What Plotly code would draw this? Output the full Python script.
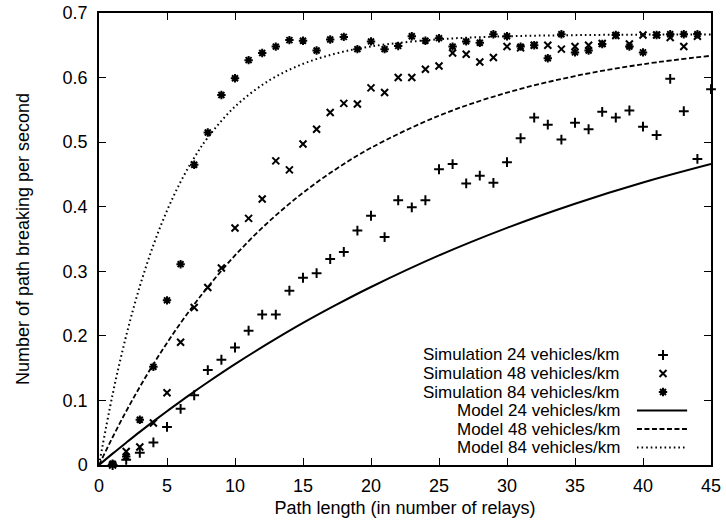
import plotly.graph_objects as go

# ---------------- data ----------------
x_sim = list(range(1, 46))
sim24 = [0.000, 0.008, 0.019, 0.035, 0.059, 0.087, 0.108, 0.147, 0.163, 0.182,
         0.208, 0.233, 0.233, 0.270, 0.290, 0.297, 0.319, 0.330, 0.363, 0.386,
         0.353, 0.410, 0.399, 0.410, 0.458, 0.466, 0.436, 0.448, 0.437, 0.469,
         0.506, 0.538, 0.527, 0.504, 0.530, 0.520, 0.547, 0.538, 0.549, 0.524,
         0.511, 0.598, 0.548, 0.474, 0.582]
x_sim2 = list(range(1, 45))
sim48 = [0.000, 0.021, 0.028, 0.065, 0.112, 0.190, 0.244, 0.275, 0.305, 0.367,
         0.382, 0.412, 0.471, 0.457, 0.497, 0.520, 0.546, 0.560, 0.559, 0.584,
         0.577, 0.600, 0.600, 0.613, 0.618, 0.638, 0.636, 0.624, 0.631, 0.648,
         0.646, 0.650, 0.650, 0.644, 0.648, 0.650, 0.653, 0.665, 0.652, 0.666,
         0.666, 0.662, 0.648, 0.664]
sim84 = [0.002, 0.013, 0.070, 0.152, 0.255, 0.311, 0.465, 0.515, 0.573, 0.599,
         0.627, 0.638, 0.648, 0.658, 0.657, 0.642, 0.659, 0.663, 0.644, 0.656,
         0.644, 0.649, 0.664, 0.657, 0.661, 0.648, 0.656, 0.654, 0.667, 0.664,
         0.648, 0.650, 0.630, 0.667, 0.639, 0.642, 0.652, 0.666, 0.648, 0.639,
         0.666, 0.667, 0.667, 0.667]

x_model = [0, 1, 2, 3, 4, 5, 6, 7, 8, 10, 12.5, 15, 17.5, 20, 25, 30, 35, 40, 45]
model24 = [0, 0.0176, 0.0346, 0.0513, 0.0675, 0.0833, 0.0986, 0.1136, 0.1281, 0.1561,
           0.189, 0.220, 0.2487, 0.2757, 0.3246, 0.3673, 0.4047, 0.4375, 0.4661]
model48 = [0, 0.043, 0.0833, 0.1209, 0.1561, 0.1891, 0.2199, 0.2487, 0.2757, 0.3246,
           0.3771, 0.4216, 0.4593, 0.4912, 0.541, 0.5767, 0.6023, 0.6207, 0.6338]
model84 = [0, 0.1091, 0.2003, 0.2766, 0.3405, 0.3939, 0.4385, 0.4759, 0.5071, 0.5551,
           0.5954, 0.6212, 0.6377, 0.6483, 0.6593, 0.6639, 0.6657, 0.6665, 0.6668]

legend_labels = ["Simulation 24 vehicles/km", "Simulation 48 vehicles/km",
                 "Simulation 84 vehicles/km", "Model 24 vehicles/km",
                 "Model 48 vehicles/km", "Model 84 vehicles/km"]

x_ticks = [0, 5, 10, 15, 20, 25, 30, 35, 40, 45]
y_ticks = [0, 0.1, 0.2, 0.3, 0.4, 0.5, 0.6, 0.7]

FONT = "Liberation Sans, Arial, sans-serif"
FS = 18
FS_LEG = 17

marker_styles = [
    dict(symbol="cross-thin", size=7, line=dict(width=2, color="black"), color="black"),
    dict(symbol="x-thin", size=7, line=dict(width=2, color="black"), color="black"),
    dict(symbol="asterisk", size=7, line=dict(width=2, color="black"), color="black"),
]
line_styles = [
    dict(color="black", width=2, dash="solid"),
    dict(color="black", width=1.8, dash="5px,2.5px"),
    dict(color="black", width=2, dash="1.6px,3px"),
]

fig = go.Figure()

# model curves
for xs, ys, ls in [(x_model, model24, line_styles[0]),
                   (x_model, model48, line_styles[1]),
                   (x_model, model84, line_styles[2])]:
    fig.add_trace(go.Scatter(x=xs, y=ys, mode="lines", line=dict(shape="spline", **ls),
                             showlegend=False, hoverinfo="skip"))

# simulation points
for xs, ys, ms in [(x_sim, sim24, marker_styles[0]),
                   (x_sim2, sim48, marker_styles[1]),
                   (x_sim2, sim84, marker_styles[2])]:
    fig.add_trace(go.Scatter(x=xs, y=ys, mode="markers", marker=ms,
                             showlegend=False, cliponaxis=False, hoverinfo="skip"))

# ---- manual gnuplot-style legend (text left, sample right) on overlay axes ----
row_y = [0.2434, 0.2024, 0.1615, 0.1206, 0.0796, 0.0387]
sample_x = 0.9216
line_x = [0.879, 0.961]
for i in range(3):
    fig.add_trace(go.Scatter(x=[sample_x], y=[row_y[i]], mode="markers",
                             marker=marker_styles[i], xaxis="x2", yaxis="y2",
                             showlegend=False, hoverinfo="skip"))
for i in range(3):
    fig.add_trace(go.Scatter(x=line_x, y=[row_y[3 + i]] * 2, mode="lines",
                             line=line_styles[i], xaxis="x2", yaxis="y2",
                             showlegend=False, hoverinfo="skip"))

annotations = []
for i, lab in enumerate(legend_labels):
    annotations.append(dict(text=lab, x=0.853, y=row_y[i], xref="x2", yref="y2",
                            xanchor="right", yanchor="middle", showarrow=False,
                            borderpad=0,
                            font=dict(family=FONT, size=FS_LEG, color="black")))

axis_common = dict(showline=True, linecolor="black", linewidth=1.5, mirror="ticks",
                   ticks="inside", ticklen=7, tickwidth=1.2, tickcolor="black",
                   showgrid=False, zeroline=False, automargin=False,
                   tickfont=dict(family=FONT, size=FS, color="black"))

fig.update_layout(
    width=726, height=525,
    margin=dict(l=99, r=15, t=13, b=60),
    paper_bgcolor="white", plot_bgcolor="white",
    font=dict(family=FONT, size=FS, color="black"),
    xaxis=dict(range=[0, 45], tickvals=x_ticks, ticktext=[str(v) for v in x_ticks],
               title=dict(text="Path length (in number of relays)", standoff=6,
                          font=dict(family=FONT, size=FS)),
               ticklabelstandoff=4, **axis_common),
    yaxis=dict(range=[0, 0.7], tickvals=y_ticks, ticktext=["0", "0.1", "0.2", "0.3", "0.4", "0.5", "0.6", "0.7"],
               title=dict(text="Number of path breaking per second", standoff=28,
                          font=dict(family=FONT, size=FS)),
               ticklabelstandoff=6, **axis_common),
    xaxis2=dict(range=[0, 1], overlaying="x", visible=False, anchor="y2"),
    yaxis2=dict(range=[0, 1], overlaying="y", visible=False, anchor="x2"),
    annotations=annotations,
    showlegend=False,
)

fig.write_html("out.html")
